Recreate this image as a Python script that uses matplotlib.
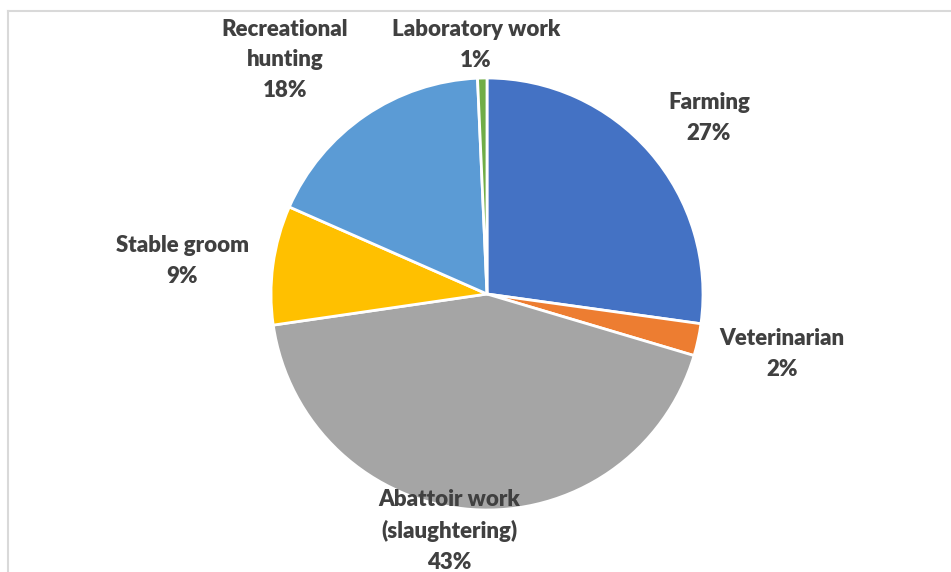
import matplotlib
matplotlib.use("Agg")
import matplotlib.pyplot as plt
from matplotlib.lines import Line2D

# share of cases by occupation, clockwise from 12 o'clock
occupations = ["Farming", "Veterinarian", "Abattoir work\n(slaughtering)",
               "Stable groom", "Recreational\nhunting", "Laboratory work"]
shares = [27.2, 2.4, 43.1, 8.9, 17.7, 0.7]
colors = ["#4472C4", "#ED7D31", "#A5A5A5", "#FFC000", "#5B9BD5", "#70AD47"]

# label centres in pixel coordinates (x from left, y from top)
label_xy = [(709, 118), (782, 354), (449, 531), (182, 261), (285, 60), (476, 45)]

W, H = 951, 572
CX, CY, R = 487, 294, 216

fig = plt.figure(figsize=(W / 100, H / 100), dpi=100)
ax = fig.add_axes([0, 0, 1, 1])

ax.pie(shares, colors=colors, startangle=90, counterclock=False,
       center=(CX, H - CY), radius=R, frame=True,
       wedgeprops=dict(edgecolor="white", linewidth=2))
ax.set_xlim(0, W)
ax.set_ylim(0, H)
ax.set_aspect("equal")
ax.axis("off")

for name, val, (x, y) in zip(occupations, shares, label_xy):
    ax.text(x, H - y, f"{name}\n{val:.0f}%", ha="center", va="center",
            multialignment="center", fontsize=16, fontweight="heavy",
            family="Lato", color="#404040", linespacing=1.55)

# chart area border (cropped at right and bottom)
border = "#D9D9D9"
fig.add_artist(Line2D([8 / W, 1], [1 - 11 / H, 1 - 11 / H], color=border, lw=1.5,
                      transform=fig.transFigure))
fig.add_artist(Line2D([8 / W, 8 / W], [0, 1 - 11 / H], color=border, lw=1.5,
                      transform=fig.transFigure))

fig.savefig("out.png", dpi=100, facecolor="white")
